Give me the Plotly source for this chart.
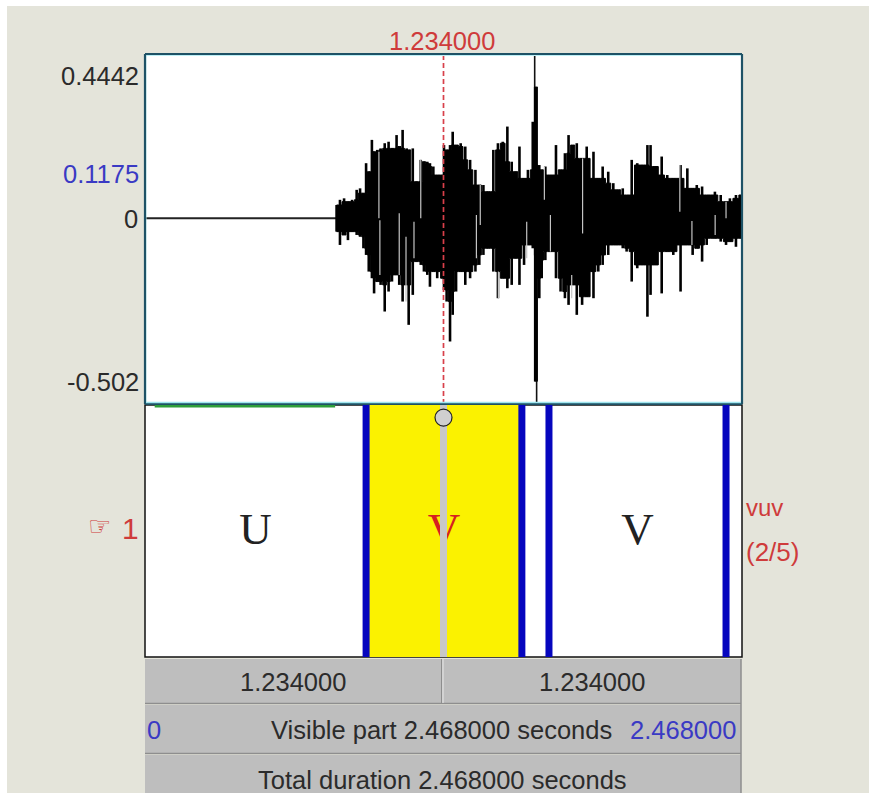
import plotly.graph_objects as go

W, H = 869, 793
DURATION = 2.468
AMP_TOP, AMP_BOTTOM = 0.4442, -0.502
CURSOR = 1.234

wave_t = [.792,.806,.823,.839,.856,.875,.889,.903,.914,.925,.938,.947,.960,.974,.991,1.007,1.021,1.040,1.051,1.065,1.082,1.090,1.107,1.120,1.140,1.153,1.167,
          1.178,1.192,1.208,1.236,1.247,1.261,1.272,1.286,1.305,1.324,1.344,1.366,1.382,1.399,1.419,1.440,1.459,1.479,1.498,1.516,1.534,1.548,1.567,1.583,1.603,
          1.616,1.630,1.640,1.655,1.674,1.699,1.718,1.736,1.751,1.768,1.785,1.807,1.826,1.854,1.874,1.892,1.915,1.936,1.958,1.975,1.991,2.012,2.035,2.060,2.077,2.090,2.108,2.136,2.159,2.184,2.214,2.242,2.264,2.281,2.303,2.322,2.356,2.380,2.402,2.418,2.443,2.467]
wave_hi = [.036,.050,.054,.045,.050,.077,.081,.068,.149,.126,.212,.180,.185,.189,.203,.207,.189,.225,.194,.239,.189,.185,.189,.099,.158,.153,.153,
           .149,.140,.117,.198,.185,.198,.234,.198,.203,.194,.158,.131,.090,.090,.072,.185,.203,.207,.248,.153,.126,.194,.108,.131,.261,
           .356,.144,.131,.140,.117,.198,.131,.176,.225,.198,.203,.162,.194,.180,.108,.140,.126,.095,.077,.081,.063,.158,.149,.144,.198,.198,.140,.167,.117,.108,.144,.135,.081,.090,.086,.063,.072,.063,.045,.054,.063,.063]
wave_lo = [-.036,-.072,-.045,-.059,-.036,-.045,-.050,-.081,-.099,-.144,-.162,-.203,-.171,-.180,-.252,-.198,-.171,-.153,-.180,-.225,-.180,-.288,-.207,-.117,-.126,-.144,-.153,
           -.185,-.144,-.162,-.194,-.225,-.333,-.261,-.198,-.144,-.180,-.162,-.144,-.126,-.099,-.081,-.144,-.216,-.162,-.189,-.180,-.108,-.180,-.126,-.072,-.081,
           -.441,-.216,-.162,-.113,-.090,-.162,-.198,-.216,-.234,-.180,-.261,-.234,-.212,-.216,-.144,-.126,-.099,-.072,-.072,-.081,-.090,-.171,-.135,-.126,-.266,-.207,-.126,-.203,-.090,-.099,-.198,-.072,-.099,-.081,-.117,-.072,-.054,-.063,-.072,-.063,-.077,-.054]

silence_t = [0, .792]
silence_v = [0, 0]
spike_t = [1.611, 1.619]
spike_hi = [.446, .100]
spike_lo = [-.100, -.500]
spike_core_t = [1.616]
spike_core_hi = [.356]
spike_core_lo = [-.441]

gap_t = [.967,.971,1.051,1.079,1.140,1.112,1.386,1.370,1.578,1.651,1.676,1.809,2.211,2.261,2.357,2.402,1.461,1.764]
gap_hi = [.180,-.005,.014,-.050,.158,-.009,.090,.009,-.009,.140,.009,.162,.144,-.007,.009,.045,-.144,-.153]
gap_lo = [0,-.153,-.153,-.225,-.000,-.108,-.018,-.108,-.108,.050,-.090,-.041,.018,-.072,-.045,-.000,-.216,-.216]

bounds = [.914, 1.558, 1.670, 2.402]
edges = [0, .914, 1.558, 1.670, 2.402, DURATION]
labels = ["U", "V", "", "V", ""]
label_colors = ["#222222", "#D62020", "#222222", "#222222", "#222222"]
sel_start, sel_end = .914, 1.558

BG = "#E4E4DA"; RED = "#CF3B3B"; BLUE = "#3A3AC4"; INK = "#2B2B2B"; GREY = "#BEBEBE"
SANS = "Liberation Sans, sans-serif"
SERIF = "Liberation Serif, serif"
TXT = 25.5

def px(x): return x / W
def py(y): return 1 - y / H

fig = go.Figure()

# waveform: solid body under the read peaks, with one stroke per peak rising out of it
n = len(wave_t)
body_hi = [min(wave_hi[max(i - 1, 0):i + 2]) for i in range(n)]
body_lo = [max(wave_lo[max(i - 1, 0):i + 2]) for i in range(n)]
fig.add_trace(go.Scatter(x=silence_t, y=silence_v, mode="lines", line=dict(color="#222", width=2), xaxis="x", yaxis="y"))
fig.add_trace(go.Scatter(x=wave_t + wave_t[::-1], y=body_hi + body_lo[::-1], mode="lines", fill="toself",
                         fillcolor="black", line=dict(color="black", width=1, shape="hvh"), xaxis="x", yaxis="y"))
cx, cy = [], []
for t, h, l in zip(wave_t, wave_hi, wave_lo):
    cx += [t, t, None]; cy += [h, l, None]
fig.add_trace(go.Scatter(x=cx, y=cy, mode="lines", line=dict(color="black", width=2.6), xaxis="x", yaxis="y"))
gx, gy = [], []
for t, h, l in zip(gap_t, gap_hi, gap_lo):
    gx += [t, t, None]; gy += [h, l, None]
fig.add_trace(go.Scatter(x=gx, y=gy, mode="lines", line=dict(color="#C4C4C4", width=1.2), xaxis="x", yaxis="y"))
sx, sy = [], []
for t, h, l in zip(spike_t, spike_hi, spike_lo):
    sx += [t, t, None]; sy += [h, l, None]
fig.add_trace(go.Scatter(x=sx, y=sy, mode="lines", line=dict(color="#111", width=1.6), xaxis="x", yaxis="y"))
fig.add_trace(go.Scatter(x=spike_core_t * 2, y=spike_core_hi + spike_core_lo, mode="lines",
                         line=dict(color="black", width=4), xaxis="x", yaxis="y"))
fig.add_trace(go.Scatter(x=[CURSOR, CURSOR], y=[AMP_BOTTOM, AMP_TOP], mode="lines",
                         line=dict(color="#D8404A", width=1.7, dash="5px,3px"), xaxis="x", yaxis="y"))

# tier
fig.add_trace(go.Bar(x=[(sel_start + sel_end) / 2], y=[1], width=[sel_end - sel_start], base=[0],
                     marker=dict(color="#FBF200", line=dict(width=0)), xaxis="x2", yaxis="y2"))
mids = [(a + b) / 2 for a, b in zip(edges, edges[1:])]
fig.add_trace(go.Scatter(x=mids, y=[.495] * len(mids), mode="text", text=labels,
                         textfont=dict(family=SERIF, size=45, color=label_colors), textposition="middle center",
                         xaxis="x2", yaxis="y2"))
fig.add_trace(go.Scatter(x=[CURSOR, CURSOR], y=[0, 1], mode="lines", line=dict(color="#C8C8C8", width=7),
                         xaxis="x2", yaxis="y2"))
fig.add_trace(go.Scatter(x=[CURSOR], y=[.95], mode="markers",
                         marker=dict(size=17, color="#CFCFCF", line=dict(color="#222", width=1.2)),
                         xaxis="x2", yaxis="y2"))
for b in bounds:
    fig.add_trace(go.Scatter(x=[b, b], y=[1, -.005], mode="lines+markers", cliponaxis=False,
                             line=dict(color="#0606BE", width=7), marker=dict(size=[0, 7], color="#0606BE"),
                             xaxis="x2", yaxis="y2"))
fig.add_trace(go.Scatter(x=[.04, .786], y=[.995, .995], mode="lines", cliponaxis=False,
                         line=dict(color="#2E9E3A", width=2.5), xaxis="x2", yaxis="y2"))

shapes = []
def rect(x0, y0, x1, y1, fill, line=None, lw=0, layer="below"):
    shapes.append(dict(type="rect", xref="paper", yref="paper", x0=px(x0), x1=px(x1), y0=py(y1), y1=py(y0),
                       fillcolor=fill, line=dict(color=line or fill, width=lw), layer=layer))
def seg(x0, y0, x1, y1, c, lw=1.5):
    shapes.append(dict(type="line", xref="paper", yref="paper", x0=px(x0), x1=px(x1), y0=py(y1), y1=py(y0),
                       line=dict(color=c, width=lw), layer="above"))

rect(0, 0, W, 6, "#FFFFFF")
rect(0, 0, 7, H, "#FFFFFF")
rect(145, 405, 742, 657, "white", "#111111", 1.5)
rect(145, 54, 742, 404, "white")
seg(145, 55.5, 742, 55.5, "#BDF0F6", 1)
seg(146, 54, 146, 404, "#BDF0F6", 1)
for args in [(145, 54, 742, 54), (145, 404, 742, 404), (145, 54, 145, 404), (742, 54, 742, 404)]:
    seg(*args, "#1E5266", 2.2)
seg(146, 402.5, 741, 402.5, "#9FE6EF", 1.5)
rect(145, 659, 741, 703, GREY)
rect(145, 705, 741, 753, GREY)
rect(145, 755, 741, 793, GREY)
seg(145, 703.5, 741, 703.5, "#8E8E8E", 1.5)
seg(145, 753.5, 741, 753.5, "#8E8E8E", 1.5)
seg(741, 659, 741, 793, "#8E8E8E", 1.5)
seg(441.5, 659, 441.5, 703, "#8E8E8E", 1)
seg(443, 659, 443, 703, "#E8E8E8", 1)

def note(text, x, y, color=INK, size=TXT, anchor="center", family=SANS):
    return dict(text=text, x=px(x), y=py(y), xref="paper", yref="paper", xanchor=anchor, yanchor="middle",
                showarrow=False, font=dict(family=family, size=size, color=color))

annotations = [
    note("1.234000", 442, 41, RED),
    note("0.4442", 141, 76, anchor="right"),
    note("0.1175", 141, 174, BLUE, anchor="right"),
    note("0", 140, 219, anchor="right"),
    note("-0.502", 141, 382, anchor="right"),
    note("☞", 99, 526, RED, 26, family="DejaVu Sans"),
    note("1", 130, 528, RED, 30),
    note("vuv", 744, 507, RED, 24, anchor="left"),
    note("(2/5)", 744, 552, RED, 26, anchor="left"),
    note("1.234000", 293, 682),
    note("1.234000", 592, 682),
    note("0", 154, 730, BLUE),
    note("Visible part 2.468000 seconds", 441, 730),
    note("2.468000", 738, 730, BLUE, anchor="right"),
    note("Total duration 2.468000 seconds", 442, 780),
]

xdom = [px(145), px(742)]
fig.update_layout(
    width=W, height=H, autosize=False, margin=dict(l=0, r=0, t=0, b=0), showlegend=False,
    paper_bgcolor=BG, plot_bgcolor="rgba(0,0,0,0)", bargap=0, barmode="overlay",
    shapes=shapes, annotations=annotations,
    xaxis=dict(domain=xdom, range=[0, DURATION], visible=False, fixedrange=True),
    yaxis=dict(domain=[py(404), py(54)], range=[AMP_BOTTOM, AMP_TOP], visible=False, fixedrange=True),
    xaxis2=dict(domain=xdom, range=[0, DURATION], visible=False, anchor="y2", fixedrange=True),
    yaxis2=dict(domain=[py(657), py(405)], range=[0, 1], visible=False, anchor="x2", fixedrange=True),
)
fig.write_html("out.html", config={"displayModeBar": False},
               post_script="document.body.style.margin='0';document.body.style.overflow='hidden';")
